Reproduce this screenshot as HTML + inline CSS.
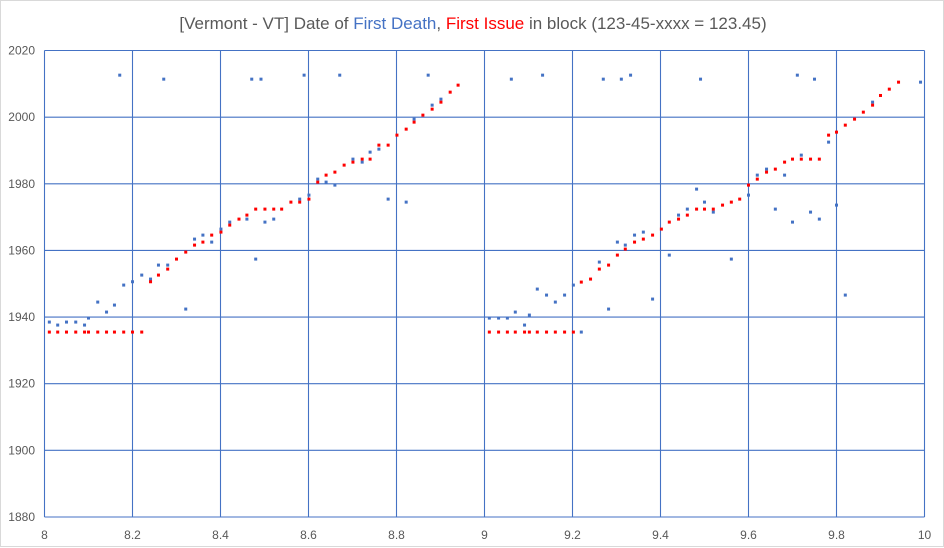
<!DOCTYPE html>
<html><head><meta charset="utf-8"><style>
html,body{margin:0;padding:0;background:#fff;}
#chart{position:relative;width:944px;height:547px;box-sizing:border-box;border:1px solid #d9d9d9;background:#fff;font-family:"Liberation Sans",sans-serif;}
svg{position:absolute;left:0;top:0;}
</style></head><body>
<div id="chart">
<svg id="svg" width="944" height="547">
<text x="472" y="28" text-anchor="middle" font-size="17" fill="#595959" font-family="Liberation Sans, sans-serif">[Vermont - VT] Date of <tspan fill="#4472c4">First Death</tspan>, <tspan fill="#ff0000">First Issue</tspan> in block (123-45-xxxx = 123.45)</text>
</svg>
</div>
<script>
const xTicks=[8,8.2,8.4,8.6,8.8,9,9.2,9.4,9.6,9.8,10];
const xTickLabels=["8","8.2","8.4","8.6","8.8","9","9.2","9.4","9.6","9.8","10"];
const yTicks=[1880,1900,1920,1940,1960,1980,2000,2020];
const yTickLabels=["1880","1900","1920","1940","1960","1980","2000","2020"];
const deathX=[8.171,8.271,8.471,8.492,8.590,8.671,8.872,8.011,8.030,8.050,8.071,8.091,8.100,8.121,8.141,8.159,8.180,8.200,8.221,8.241,8.259,8.280,8.321,8.341,8.360,8.380,8.401,8.421,8.460,8.480,8.501,8.521,8.580,8.601,8.621,8.640,8.660,8.701,8.722,8.740,8.760,8.781,8.822,8.840,8.881,8.901,
9.061,9.132,9.270,9.311,9.332,9.491,9.711,9.750,9.991,9.011,9.032,9.052,9.070,9.091,9.102,9.120,9.141,9.161,9.182,9.202,9.220,9.261,9.282,9.302,9.320,9.341,9.361,9.382,9.420,9.441,9.461,9.482,9.500,9.520,9.561,9.600,9.620,9.641,9.661,9.682,9.700,9.720,9.741,9.761,9.782,9.800,9.820,9.882];
const deathY=[2012.6,2011.4,2011.4,2011.4,2012.6,2012.6,2012.6,1938.5,1937.6,1938.5,1938.5,1937.6,1939.7,1944.5,1941.5,1943.6,1949.6,1950.6,1952.6,1951.4,1955.6,1955.6,1942.4,1963.4,1964.6,1962.5,1966.4,1968.5,1969.4,1957.4,1968.5,1969.4,1975.4,1976.6,1981.4,1980.5,1979.6,1987.4,1986.5,1989.5,1990.4,1975.4,1974.5,1999.4,2003.6,2005.4,
2011.4,2012.6,2011.4,2011.4,2012.6,2011.4,2012.6,2011.4,2010.5,1939.7,1939.7,1939.7,1941.5,1937.6,1940.6,1948.4,1946.6,1944.5,1946.6,1949.6,1935.5,1956.5,1942.4,1962.5,1961.6,1964.6,1965.5,1945.4,1958.6,1970.6,1972.4,1978.4,1974.5,1971.5,1957.4,1976.6,1982.6,1984.4,1972.4,1982.6,1968.5,1988.6,1971.5,1969.4,1992.5,1973.6,1946.6,2004.5];
const issueX=[8.011,8.030,8.050,8.071,8.091,8.100,8.121,8.141,8.159,8.180,8.200,8.221,8.241,8.259,8.280,8.300,8.321,8.341,8.360,8.380,8.401,8.421,8.442,8.460,8.480,8.501,8.521,8.539,8.560,8.580,8.601,8.621,8.640,8.660,8.681,8.701,8.722,8.740,8.760,8.781,8.801,8.822,8.840,8.860,8.881,8.901,8.922,8.940,
9.011,9.032,9.052,9.070,9.091,9.102,9.120,9.141,9.161,9.182,9.202,9.220,9.241,9.261,9.282,9.302,9.320,9.341,9.361,9.382,9.402,9.420,9.441,9.461,9.482,9.500,9.520,9.541,9.561,9.580,9.600,9.620,9.641,9.661,9.682,9.700,9.720,9.741,9.761,9.782,9.800,9.820,9.841,9.861,9.882,9.900,9.920,9.941];
const issueY=[1935.5,1935.5,1935.5,1935.5,1935.5,1935.5,1935.5,1935.5,1935.5,1935.5,1935.5,1935.5,1950.6,1952.6,1954.4,1957.4,1959.5,1961.6,1962.5,1964.6,1965.5,1967.6,1969.4,1970.6,1972.4,1972.4,1972.4,1972.4,1974.5,1974.5,1975.4,1980.5,1982.6,1983.5,1985.6,1986.5,1987.4,1987.4,1991.6,1991.6,1994.6,1996.4,1998.5,2000.6,2002.4,2004.5,2007.5,2009.6,
1935.5,1935.5,1935.5,1935.5,1935.5,1935.5,1935.5,1935.5,1935.5,1935.5,1935.5,1950.5,1951.4,1954.4,1955.6,1958.6,1960.4,1962.5,1963.4,1964.6,1966.4,1968.5,1969.4,1970.6,1972.4,1972.4,1972.4,1973.6,1974.5,1975.4,1979.6,1981.4,1983.5,1984.4,1986.5,1987.4,1987.4,1987.4,1987.4,1994.6,1995.5,1997.6,1999.4,2001.5,2003.6,2006.5,2008.4,2010.5];

const L=43.5,R=923.5,T=49.5,B=516;
const xMin=8,xMax=10,yMin=1880,yMax=2020;
function sx(v){return L+(v-xMin)/(xMax-xMin)*(R-L);}
function sy(v){return B-(v-yMin)/(yMax-yMin)*(B-T);}
const NS="http://www.w3.org/2000/svg";
const svg=document.getElementById('svg');
function mk(tag,attrs){const e=document.createElementNS(NS,tag);for(const k in attrs)e.setAttribute(k,attrs[k]);svg.appendChild(e);return e;}
xTicks.forEach((t,i)=>{
  const g=mk('line',{x1:sx(t),x2:sx(t),y1:T,y2:B,stroke:'#4472c4','stroke-width':1.1});
  
  
  const tx=mk('text',{x:sx(t),y:538,'text-anchor':'middle','font-size':12,fill:'#595959'});
  tx.textContent=xTickLabels[i];
  
  
});
yTicks.forEach((t,i)=>{
  const g=mk('line',{x1:L,x2:R,y1:sy(t),y2:sy(t),stroke:'#4472c4','stroke-width':1.1});
  
  
  const tx=mk('text',{x:34,y:sy(t)+4,'text-anchor':'end','font-size':12,fill:'#595959'});
  tx.textContent=yTickLabels[i];
  
  
});
deathX.forEach((x,i)=>{
  const c=mk('rect',{x:sx(x)-1.5,y:sy(deathY[i])-1.5,width:3,height:3,fill:'#4472c4'});
  
  
});
issueX.forEach((x,i)=>{
  const c=mk('rect',{x:sx(x)-1.5,y:sy(issueY[i])-1.5,width:3,height:3,fill:'#ff0000'});
  
  
});
</script>
</body></html>
